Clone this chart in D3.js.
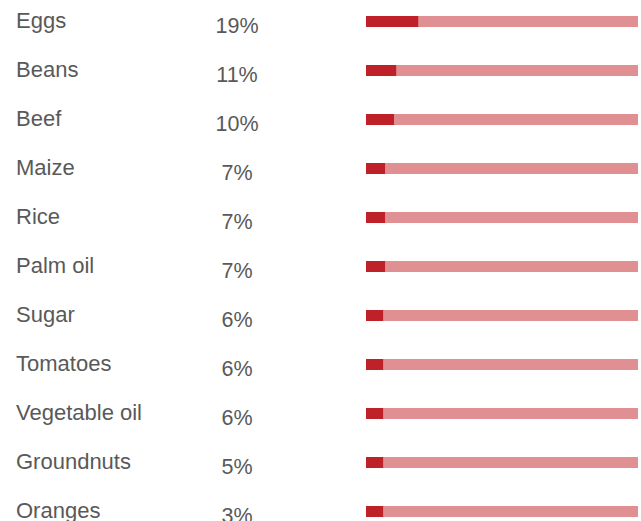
<!DOCTYPE html>
<html>
<head>
  <meta charset="utf-8">
  <script src="https://d3js.org/d3.v7.min.js"></script>
  <style>
    body { margin: 0; background: #fff; }
    text { font-family: "Liberation Sans", Arial, sans-serif; fill: #595959; }
  </style>
</head>
<body>
<script>
  // food items, the printed share and the dark bar length (% of 100)
  var foods = ["Eggs", "Beans", "Beef", "Maize", "Rice", "Palm oil", "Sugar",
               "Tomatoes", "Vegetable oil", "Groundnuts", "Oranges"];
  var shareLabels = ["19%", "11%", "10%", "7%", "7%", "7%", "6%", "6%", "6%", "5%", "3%"];
  var barValues = [19.2, 11.1, 10.3, 7.0, 7.0, 7.0, 6.3, 6.3, 6.3, 6.3, 6.3];
  var total = 100;

  var width = 641, height = 521;

  var svg = d3.select("body").append("svg")
      .attr("width", width)
      .attr("height", height);

  var y = d3.scalePoint()
      .domain(foods)
      .range([21.5, 511.5]);

  var x = d3.scaleLinear()
      .domain([0, total])
      .range([366, 638]);

  var barH = 11;

  var rows = svg.selectAll("g.row")
      .data(foods)
    .enter().append("g")
      .attr("class", "row")
      .attr("transform", function(d) { return "translate(0," + y(d) + ")"; });

  // full-length background bar
  rows.append("rect")
      .attr("x", x(0))
      .attr("y", -barH / 2)
      .attr("width", x(total) - x(0))
      .attr("height", barH)
      .attr("fill", "#e09093");

  // share bar
  rows.append("rect")
      .attr("x", x(0))
      .attr("y", -barH / 2)
      .attr("width", function(d, i) { return x(barValues[i]) - x(0); })
      .attr("height", barH)
      .attr("fill", "#bf2129");

  rows.append("text")
      .attr("x", 16)
      .attr("y", 6.5)
      .attr("font-size", "22px")
      .text(function(d) { return d; });

  rows.append("text")
      .attr("x", 237)
      .attr("y", 11)
      .attr("text-anchor", "middle")
      .attr("font-size", "21.5px")
      .text(function(d, i) { return shareLabels[i]; });
</script>
</body>
</html>
